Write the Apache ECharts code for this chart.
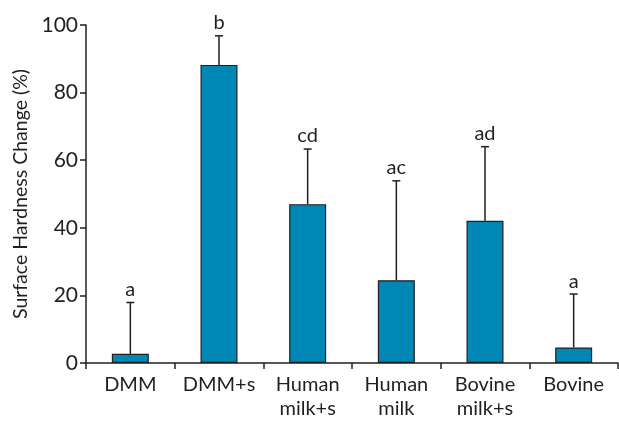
<!DOCTYPE html>
<html><head><meta charset="utf-8">
<script src="https://cdn.jsdelivr.net/npm/echarts@6/dist/echarts.min.js"></script>
<style>html,body{margin:0;padding:0;background:#fff}#c{width:619px;height:424px}</style>
</head><body><div id="c"></div>
<script>
const categories = ['DMM', 'DMM+s', 'Human\nmilk+s', 'Human\nmilk', 'Bovine\nmilk+s', 'Bovine'];
const means = [2.7, 88.2, 47.0, 24.5, 42.1, 4.6];
const upperErr = [17.9, 96.8, 63.3, 53.9, 64.0, 20.4];
const letters = ['a', 'b', 'cd', 'ac', 'ad', 'a'];
const yTicks = [0, 20, 40, 60, 80, 100];

const FONT = 'Lato';
const TXT = '#231f20';
const chart = echarts.init(document.getElementById('c'), null, {renderer: 'canvas'});
chart.setOption({
  animation: false,
  grid: {left: 86, right: 1, top: 25, bottom: 61},
  xAxis: {
    type: 'category', data: categories,
    axisLine: {lineStyle: {color: TXT, width: 1.5}},
    axisTick: {show: true, alignWithLabel: false, length: 6, lineStyle: {color: TXT, width: 1.5}},
    axisLabel: {interval: 0, color: TXT, fontFamily: FONT, fontSize: 20, lineHeight: 24, margin: 10}
  },
  yAxis: {
    type: 'value', min: yTicks[0], max: yTicks[yTicks.length - 1], interval: 20,
    name: 'Surface Hardness Change (%)', nameLocation: 'middle', nameGap: 49,
    nameTextStyle: {color: TXT, fontFamily: FONT, fontSize: 19.5},
    axisLine: {show: true, lineStyle: {color: TXT, width: 1.5}},
    axisTick: {show: true, length: 6, lineStyle: {color: TXT, width: 1.5}},
    axisLabel: {color: TXT, fontFamily: FONT, fontSize: 21, margin: 8},
    splitLine: {show: false}
  },
  series: [
    {
      type: 'custom', z: 1,
      data: categories.map((c, i) => [i, means[i], upperErr[i]]),
      renderItem: function (params, api) {
        const x = api.value(0);
        const p0 = api.coord([x, api.value(1)]);
        const p1 = api.coord([x, api.value(2)]);
        return {type: 'group', children: [
          {type: 'line', shape: {x1: p0[0], y1: p0[1], x2: p1[0], y2: p1[1]}, style: {stroke: TXT, lineWidth: 1.5}},
          {type: 'line', shape: {x1: p1[0] - 4, y1: p1[1], x2: p1[0] + 4, y2: p1[1]}, style: {stroke: TXT, lineWidth: 1.5}},
          {type: 'text', x: p1[0], y: p1[1] - 3, style: {text: letters[params.dataIndex], fill: TXT, font: '20px ' + FONT, align: 'center', verticalAlign: 'bottom'}}
        ]};
      }
    },
    {
      type: 'bar', data: means, barWidth: 37, z: 2,
      itemStyle: {color: '#0087b5', borderColor: TXT, borderWidth: 1.2}
    }
  ]
});
</script></body></html>
